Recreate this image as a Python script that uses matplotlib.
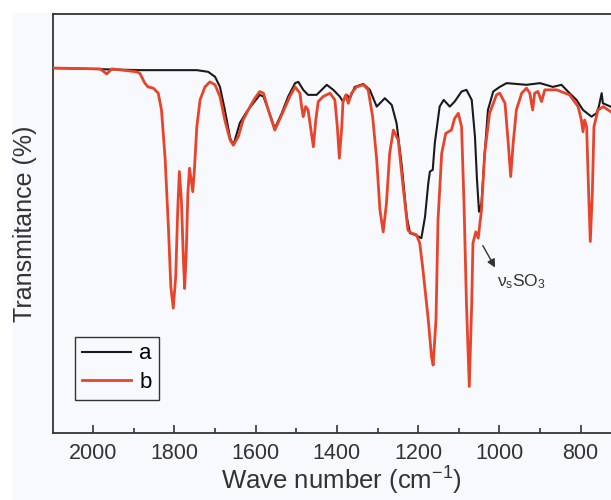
import matplotlib.pyplot as plt
from matplotlib.patches import Rectangle

plt.rcParams['font.family'] = ['Liberation Sans', 'DejaVu Sans']
plt.rcParams['mathtext.fontset'] = 'custom'
plt.rcParams['mathtext.rm'] = 'Liberation Sans'
plt.rcParams['mathtext.it'] = 'Liberation Sans'

# spectrum a (black)
wn_a = [2100, 1885, 1745, 1717, 1700, 1688, 1676, 1663, 1655, 1639, 1622, 1606, 1590,
        1581, 1569, 1553, 1536, 1520, 1503, 1495, 1483, 1471, 1450, 1425, 1409, 1393,
        1385, 1376, 1368, 1356, 1335, 1319, 1302, 1282, 1265, 1253, 1241, 1228, 1220,
        1208, 1192, 1183, 1175, 1171, 1164, 1159, 1147, 1137, 1122, 1110, 1093, 1081,
        1068, 1060, 1055, 1050, 1044, 1036, 1028, 1015, 999, 982, 933, 900, 868, 847,
        827, 810, 794, 773, 761, 755, 748, 745, 726]
t_a = [87.1, 86.6, 86.6, 86.2, 85.0, 82.6, 77.1, 70.4, 68.7, 74.0, 76.7, 78.7, 80.7,
       80.3, 77.1, 72.7, 76.3, 80.3, 83.5, 83.8, 81.9, 80.7, 80.7, 83.1, 81.9, 80.3,
       79.1, 80.7, 79.9, 82.6, 83.3, 81.9, 77.9, 79.9, 78.3, 73.9, 64.4, 51.6, 47.7,
       47.3, 46.5, 51.6, 59.6, 62.4, 62.8, 69.1, 77.9, 79.5, 77.9, 79.1, 81.5, 81.9,
       79.5, 70.7, 60.4, 52.8, 54.8, 66.8, 77.1, 81.5, 82.6, 83.5, 83.1, 83.5, 82.6, 83.1,
       81.1, 79.5, 77.1, 75.5, 76.3, 77.9, 81.1, 78.7, 77.9]

# spectrum b (red)
wn_b = [2100, 1983, 1967, 1954, 1893, 1885, 1873, 1865, 1852, 1840, 1832, 1823, 1815,
        1809, 1803, 1797, 1792, 1788, 1783, 1778, 1775, 1771, 1767, 1763, 1758, 1755,
        1751, 1745, 1737, 1725, 1713, 1700, 1688, 1676, 1663, 1655, 1643, 1631, 1614,
        1602, 1590, 1581, 1569, 1553, 1536, 1516, 1503, 1491, 1487, 1483, 1477, 1471,
        1465, 1458, 1452, 1446, 1434, 1417, 1405, 1399, 1394, 1388, 1385, 1378, 1372,
        1364, 1352, 1335, 1323, 1312, 1302, 1294, 1286, 1278, 1270, 1261, 1249, 1237,
        1225, 1216, 1204, 1196, 1188, 1175, 1167, 1163, 1156, 1151, 1142, 1132, 1118,
        1110, 1101, 1093, 1087, 1081, 1074, 1068, 1065, 1058, 1052, 1044, 1036, 1024,
        1007, 999, 986, 978, 972, 966, 958, 945, 933, 925, 918, 913, 905, 896, 888, 859,
        827, 806, 798, 794, 790, 785, 780, 776, 771, 767, 757, 744, 726]
t_b = [87.1, 86.9, 85.7, 86.9, 86.2, 85.8, 83.5, 82.6, 82.3, 81.1, 77.1, 65.4, 49.2,
       34.9, 29.8, 37.3, 53.2, 62.4, 55.6, 41.3, 34.5, 43.0, 57.3, 63.2, 59.6, 57.6,
       62.8, 73.1, 79.5, 82.6, 83.8, 83.1, 80.3, 74.7, 69.9, 68.7, 70.7, 74.7, 77.9,
       79.9, 81.5, 81.1, 77.1, 72.3, 75.9, 80.3, 82.6, 81.1, 77.9, 75.5, 77.9, 77.1,
       73.1, 68.3, 74.7, 79.1, 80.3, 81.1, 79.5, 73.1, 65.6, 73.1, 79.1, 80.7, 78.7,
       81.1, 82.6, 83.1, 81.9, 75.5, 65.2, 53.2, 48.0, 54.8, 66.8, 72.3, 69.9, 58.8,
       48.4, 47.7, 47.3, 45.3, 38.9, 27.0, 18.2, 16.2, 27.0, 50.8, 66.7, 71.5, 72.3,
       75.1, 76.3, 73.1, 54.8, 31.0, 11.1, 31.0, 45.3, 48.0, 46.5, 53.2, 66.8, 76.3,
       80.7, 81.1, 78.7, 69.1, 61.2, 69.1, 77.1, 81.1, 82.3, 81.1, 77.1, 81.1, 81.5, 79.1, 81.9, 81.9,
       80.7, 77.9, 74.7, 71.9, 74.7, 73.1, 57.2, 45.7, 57.2, 73.1, 77.1, 77.9, 76.7]

fig = plt.figure(figsize=(6.11, 5), dpi=100, facecolor='white')
fig.patches.append(Rectangle((13/611, 0), 1, 487/500, transform=fig.transFigure,
                             color='#f8f9fc', zorder=-10))
ax = fig.add_axes([0.0862, 0.134, 0.9138, 0.838])
ax.set_facecolor('#f8f9fc')

ax.plot(wn_a, t_a, color='#1a1a1a', lw=1.5, label='a', zorder=2,
        solid_joinstyle='round')
ax.plot(wn_b, t_b, color='#e8442c', lw=2.0, label='b', zorder=3,
        solid_joinstyle='round')

ax.set_xlim(2100, 725)
ax.set_ylim(0, 100)
ax.set_xticks([2000, 1800, 1600, 1400, 1200, 1000, 800])
ax.set_xticks([1900, 1700, 1500, 1300, 1100, 900], minor=True)
ax.set_yticks([])
ax.tick_params(axis='x', which='major', direction='in', length=6, width=1.2,
               labelsize=15.5, pad=7, colors='#333333')
ax.tick_params(axis='x', which='minor', direction='in', length=3.5, width=1.2, colors='#333333')
ax.spines['right'].set_visible(False)
for s in ['left', 'top', 'bottom']:
    ax.spines[s].set_color('#333333')
    ax.spines[s].set_linewidth(1.3)

ax.set_xlabel('Wave number (cm$^{-1}$)', fontsize=18.5, color='#333333')
ax.xaxis.set_label_coords(0.518, -0.075)
ax.set_ylabel('Transmitance (%)', fontsize=18, color='#333333', labelpad=11)

ax.annotate('', xy=(1007, 38.9), xytext=(1044, 45.3),
            arrowprops=dict(arrowstyle='-|>', color='#333333', lw=1, mutation_scale=12))
ax.text(1006, 35.0, r'ν$_\mathrm{s}$SO$_3$', fontsize=12.5, color='#333333')

leg = ax.legend(loc='lower left', bbox_to_anchor=(0.04, 0.079), borderaxespad=0,
                fontsize=16, handlelength=2.2, labelspacing=0.35, handletextpad=0.4,
                fancybox=False, framealpha=1, borderpad=0.3)
leg.get_frame().set_edgecolor('#333333')
leg.get_frame().set_linewidth(1.0)
leg.get_frame().set_facecolor('#f8f9fc')

fig.savefig('out.png', dpi=100, facecolor=fig.get_facecolor())
